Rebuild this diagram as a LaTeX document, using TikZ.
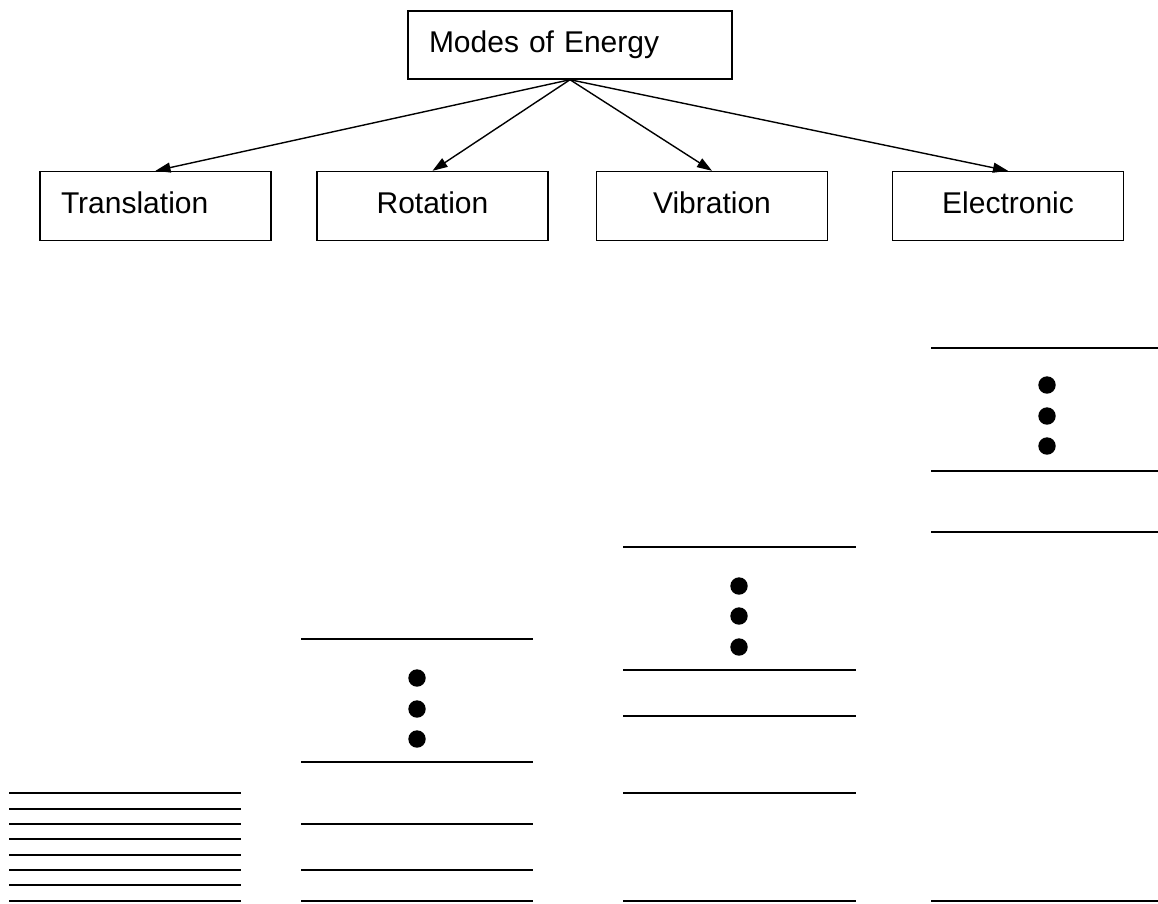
\documentclass[tikz,border=0pt]{standalone}
\usepackage{fontspec}
\setmainfont{Liberation Sans}
\usetikzlibrary{arrows.meta}
\begin{document}
\begin{tikzpicture}[x=1pt,y=-1pt,
  box/.style={draw=black,line width=1.4pt,rectangle,minimum height=69pt,
    inner ysep=0pt,font=\fontsize{30}{36}\selectfont,text height=21.5pt,text depth=7.5pt},
  lbox/.style={box,inner xsep=21pt,align=left},
  cbox/.style={box,minimum width=231pt,inner xsep=0pt},
  arr/.style={line width=1.4pt,-{Triangle[length=15pt,width=10pt]}},
  lvl/.style={line width=2pt},
  dotc/.style={fill=black}]
\useasboundingbox (0,0) rectangle (1158,903);
\fill[white] (0,0) rectangle (1158,903);
% boxes
\node[lbox,text width=282pt,minimum height=68pt] (modes) at (570,45) {Modes of Energy};
\node[lbox,text width=189pt] (trans) at (155.5,206) {Translation};
\node[cbox] (rot) at (432.5,206) {Rotation};
\node[cbox] (vib) at (712,206) {Vibration};
\node[cbox] (elec) at (1008,206) {Electronic};
% arrows
\draw[arr] (modes.south) -- (trans.north);
\draw[arr] (modes.south) -- (rot.north);
\draw[arr] (modes.south) -- (vib.north);
\draw[arr] (modes.south) -- (elec.north);
% translation levels
\foreach \y in {793.3,808.7,824,839.3,854.7,870,885.3,900.5}
  \draw[lvl] (9,\y) -- (241,\y);
% rotation levels
\foreach \y in {639,762,824,870,900.5}
  \draw[lvl] (301,\y) -- (533,\y);
\foreach \y in {678,709,739}
  \fill[dotc] (417,\y) circle (8.7);
% vibration levels
\foreach \y in {547,670,716,793,900.5}
  \draw[lvl] (623,\y) -- (856,\y);
\foreach \y in {586,616,647}
  \fill[dotc] (739,\y) circle (8.7);
% electronic levels
\foreach \y in {348,471,532,900.5}
  \draw[lvl] (931,\y) -- (1158,\y);
\foreach \y in {385,416,446}
  \fill[dotc] (1047,\y) circle (8.7);
\end{tikzpicture}
\end{document}
